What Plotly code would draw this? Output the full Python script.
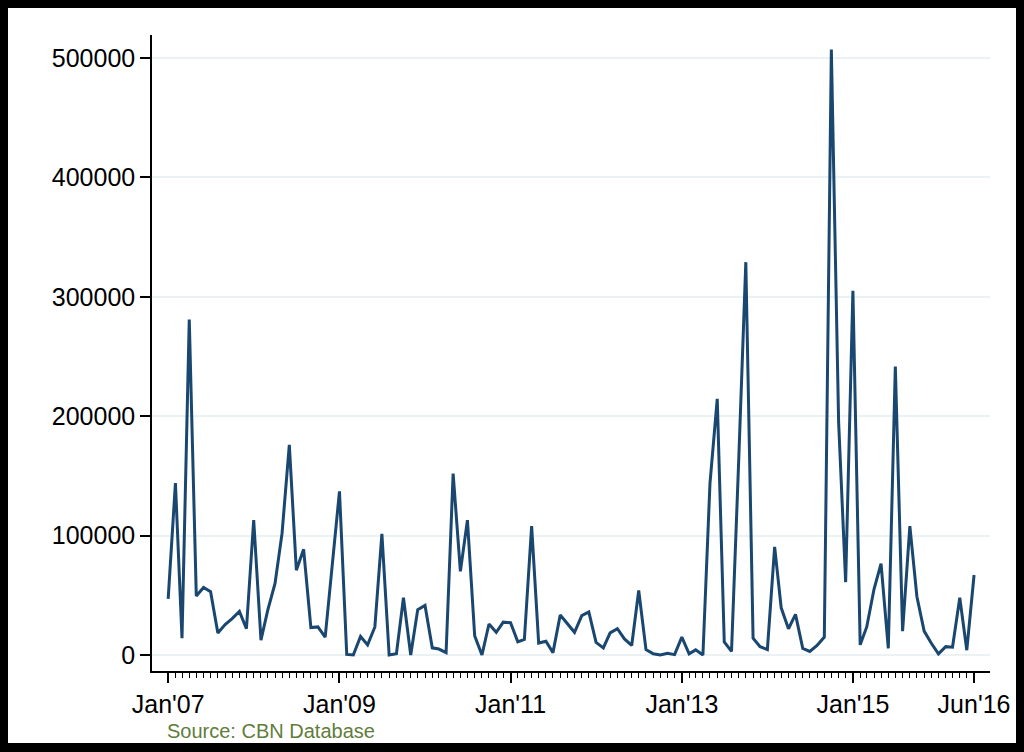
import plotly.graph_objects as go
import pandas as pd

# ---- data (monthly, Jan 2007 - Jun 2016) ----
values = [
    47000, 144000, 14000, 281000, 49500, 56500, 53000, 18500, 25500, 30500, 36500, 22000,      # 2007
    113000, 12500, 37500, 60000, 102000, 176000, 71000, 88500, 23000, 23500, 15000, 78000,     # 2008
    137000, 500, 0, 15500, 8500, 23500, 101500, 0, 1000, 48000, 0, 38000,                      # 2009
    41500, 6000, 5000, 2000, 152000, 70000, 113000, 16000, 0, 26000, 19000, 27500,             # 2010
    27000, 11000, 13000, 108000, 10000, 11500, 2000, 33500, 26500, 19000, 33000, 36000,        # 2011
    10500, 6000, 18500, 22000, 13500, 8000, 54000, 4500, 1000, 0, 1500, 300,                   # 2012
    15000, 1000, 4300, 0, 143500, 214500, 11000, 3000, 165000, 329000, 14000, 7000,            # 2013
    4500, 90500, 39500, 22000, 34000, 5500, 3000, 8000, 15000, 507000, 195000, 61000,          # 2014
    305000, 8500, 23500, 55000, 76500, 5500, 241500, 20000, 108000, 49000, 20000, 10000,       # 2015
    1000, 7000, 6500, 48000, 4000, 67000,                                                      # 2016
]
months = list(pd.date_range("2007-01-01", periods=len(values), freq="MS").strftime("%Y-%m-%d"))

x_tick_vals = ["2007-01-01", "2009-01-01", "2011-01-01", "2013-01-01", "2015-01-01", "2016-06-01"]
x_tick_text = ["Jan'07", "Jan'09", "Jan'11", "Jan'13", "Jan'15", "Jun'16"]
y_tick_vals = [0, 100000, 200000, 300000, 400000, 500000]
source_text = "Source: CBN Database"

# ---- layout geometry ----
W, H = 1024, 752
L, R, T, B = 152, 34, 35, 81
pw, ph = W - L - R, H - T - B

def px_x(p):
    return (p - L) / pw

def px_y(p):
    return (H - B - p) / ph

FONT = "Liberation Sans, Arial, sans-serif"
LINE_COLOR = "#1a476f"

fig = go.Figure()
fig.add_trace(go.Scatter(
    x=months, y=values, mode="lines",
    line=dict(color=LINE_COLOR, width=3),
    showlegend=False,
))

fig.update_layout(
    width=W, height=H,
    margin=dict(l=L, r=R, t=T, b=B, pad=0),
    paper_bgcolor="black",
    plot_bgcolor="white",
    font=dict(family=FONT, size=25, color="black"),
    shapes=[dict(
        type="rect", xref="paper", yref="paper", layer="below",
        x0=px_x(8), x1=px_x(1016), y0=px_y(743), y1=px_y(8),
        fillcolor="white", line=dict(width=0),
    )],
    annotations=[dict(
        text=source_text, xref="paper", yref="paper",
        x=px_x(165), y=px_y(731), xanchor="left", yanchor="middle",
        showarrow=False, font=dict(family=FONT, size=20, color="#5f7d3b"),
    )],
)

fig.update_xaxes(
    type="date",
    range=["2006-10-24", "2016-08-08"],
    tickmode="array", tickvals=x_tick_vals, ticktext=x_tick_text,
    ticks="outside", ticklen=10, tickwidth=1.5, tickcolor="black",
    showline=True, linecolor="black", linewidth=1.5,
    showgrid=False, zeroline=False,
    tickfont=dict(family=FONT, size=25, color="black"),
    minor=dict(tickmode="array", tickvals=months, ticks="outside",
               ticklen=5, tickwidth=1, tickcolor="black", showgrid=False),
)

fig.update_yaxes(
    range=[-13400, 519260],
    tickmode="array", tickvals=y_tick_vals, tickformat="d",
    ticks="outside", ticklen=10, tickwidth=1.5, tickcolor="black",
    showline=True, linecolor="black", linewidth=1.5,
    showgrid=True, gridcolor="#eaf2f3", gridwidth=1.5,
    zeroline=False,
    tickfont=dict(family=FONT, size=25, color="black"),
)

fig.write_html(
    "out.html",
    config={"displayModeBar": False},
    post_script="document.body.style.margin='0';document.body.style.padding='0';",
)
